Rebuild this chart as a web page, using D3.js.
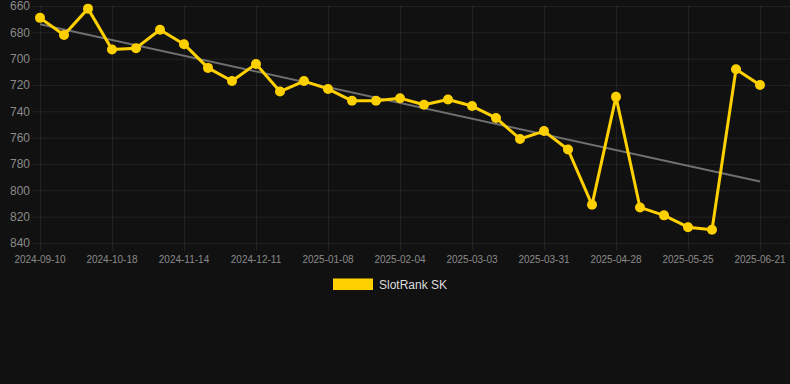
<!DOCTYPE html>
<html>
<head>
<meta charset="utf-8">
<script src="https://cdn.jsdelivr.net/npm/d3@7"></script>
<style>
	html, body { margin: 0; padding: 0; background: #111111; }
	svg { display: block; font-family: "Liberation Sans", Arial, Helvetica, sans-serif; }
</style>
</head>
<body>
<div id="chart"></div>
<script>
// 日付ラベル (3つおきに表示)
const dates = [
	"2024-09-10", "2024-09-23", "2024-10-05", "2024-10-18", "2024-10-27", "2024-11-05",
	"2024-11-14", "2024-11-23", "2024-12-02", "2024-12-11", "2024-12-20", "2024-12-30",
	"2025-01-08", "2025-01-17", "2025-01-26", "2025-02-04", "2025-02-13", "2025-02-22",
	"2025-03-03", "2025-03-12", "2025-03-21", "2025-03-31", "2025-04-09", "2025-04-18",
	"2025-04-28", "2025-05-07", "2025-05-16", "2025-05-25", "2025-06-03", "2025-06-12",
	"2025-06-21"
];

// SlotRank SK の順位
const ranks = [
	669, 682, 662, 693, 692, 678,
	689, 707, 717, 704, 725, 717,
	723, 732, 732, 730, 735, 731,
	736, 745, 761, 755, 769, 811,
	729, 813, 819, 828, 830, 708,
	720
];

const yTicks = [660, 680, 700, 720, 740, 760, 780, 800, 820, 840];
const seriesName = "SlotRank SK";

(function() {
	const width = 790, height = 384;
	const left = 40, right = 760, top = 6, bottom = 243;
	const gridColor = "rgba(255,255,255,0.07)";
	const tickColor = "#8a8a8a";
	const yellow = "#ffd000";

	const svg = d3.select("#chart").append("svg")
		.attr("width", width)
		.attr("height", height);

	const x = d3.scalePoint()
		.domain(dates)
		.range([left, right]);

	// 順位なので上が小さい値
	const y = d3.scaleLinear()
		.domain([660, 840])
		.range([top, bottom]);

	// 横グリッド
	svg.append("g")
		.selectAll("line")
		.data(yTicks)
		.join("line")
		.attr("x1", left - 8)
		.attr("x2", width)
		.attr("y1", d => y(d) + 0.5)
		.attr("y2", d => y(d) + 0.5)
		.attr("stroke", gridColor);

	// 縦グリッド
	const xTicks = dates.filter((d, i) => i % 3 === 0);
	svg.append("g")
		.selectAll("line")
		.data(xTicks)
		.join("line")
		.attr("x1", d => x(d) + 0.5)
		.attr("x2", d => x(d) + 0.5)
		.attr("y1", top)
		.attr("y2", bottom + 8)
		.attr("stroke", gridColor);

	// Y軸ラベル
	svg.append("g")
		.selectAll("text")
		.data(yTicks)
		.join("text")
		.attr("x", 30)
		.attr("y", d => y(d))
		.attr("dy", "0.35em")
		.attr("text-anchor", "end")
		.attr("fill", tickColor)
		.style("font-size", "12px")
		.text(d => d);

	// X軸ラベル
	svg.append("g")
		.selectAll("text")
		.data(xTicks)
		.join("text")
		.attr("x", d => x(d))
		.attr("y", 259)
		.attr("dy", "0.35em")
		.attr("text-anchor", "middle")
		.attr("fill", tickColor)
		.style("font-size", "10px")
		.text(d => d);

	// トレンドライン (最小二乗法)
	const n = ranks.length;
	const mx = d3.mean(ranks, (d, i) => i);
	const my = d3.mean(ranks);
	let sxy = 0, sxx = 0;
	ranks.forEach((d, i) => {
		sxy += (i - mx) * (d - my);
		sxx += (i - mx) * (i - mx);
	});
	const slope = sxy / sxx;
	const intercept = my - slope * mx;
	svg.append("line")
		.attr("x1", x(dates[0]))
		.attr("x2", x(dates[n - 1]))
		.attr("y1", y(intercept))
		.attr("y2", y(intercept + slope * (n - 1)))
		.attr("stroke", "#6f6f6f")
		.attr("stroke-width", 2);

	// データライン
	const line = d3.line()
		.x((d, i) => x(dates[i]))
		.y(d => y(d));

	svg.append("path")
		.datum(ranks)
		.attr("d", line)
		.attr("fill", "none")
		.attr("stroke", yellow)
		.attr("stroke-width", 3)
		.attr("stroke-linejoin", "round");

	svg.append("g")
		.selectAll("circle")
		.data(ranks)
		.join("circle")
		.attr("cx", (d, i) => x(dates[i]))
		.attr("cy", d => y(d))
		.attr("r", 5)
		.attr("fill", yellow);

	// 凡例
	const legend = svg.append("g");
	legend.append("rect")
		.attr("x", 333)
		.attr("y", 278.5)
		.attr("width", 40)
		.attr("height", 11.5)
		.attr("fill", yellow);
	legend.append("text")
		.attr("x", 379)
		.attr("y", 284.5)
		.attr("dy", "0.35em")
		.attr("fill", "#dddddd")
		.style("font-size", "12px")
		.text(seriesName);
}());
</script>
</body>
</html>
